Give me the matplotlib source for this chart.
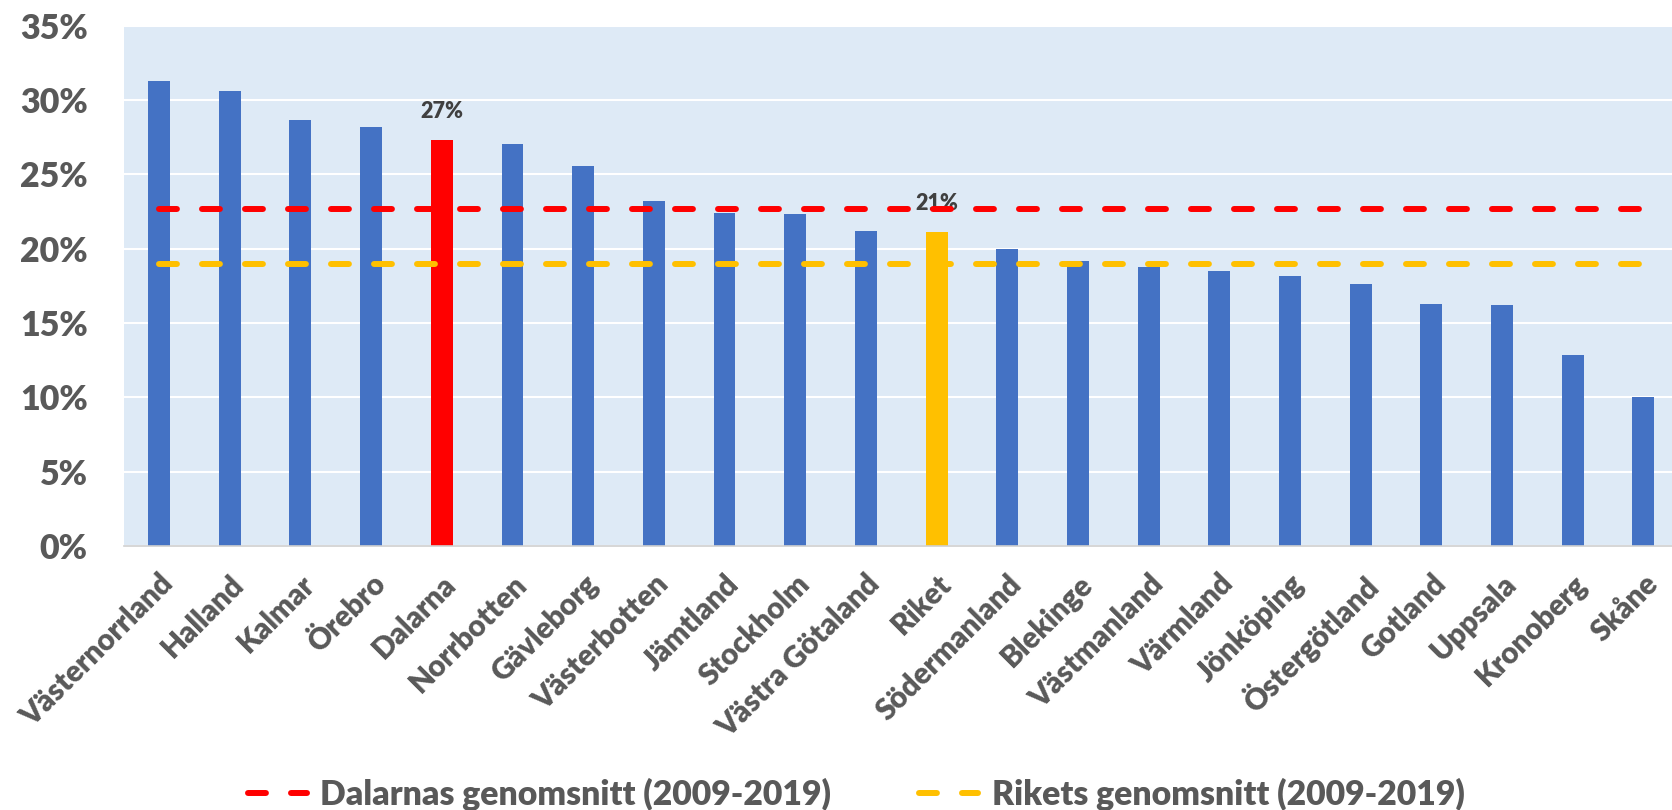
import numpy as np
import matplotlib.pyplot as plt
from matplotlib.lines import Line2D

plt.rcParams['font.family'] = ['Lato', 'DejaVu Sans']
plt.rcParams['font.weight'] = 'bold'

# Data (share in percent)
regions = ['Västernorrland', 'Halland', 'Kalmar', 'Örebro', 'Dalarna', 'Norrbotten',
           'Gävleborg', 'Västerbotten', 'Jämtland', 'Stockholm', 'Västra Götaland',
           'Riket', 'Södermanland', 'Blekinge', 'Västmanland', 'Värmland', 'Jönköping',
           'Östergötland', 'Gotland', 'Uppsala', 'Kronoberg', 'Skåne']
values = [31.3, 30.6, 28.7, 28.2, 27.3, 27.05, 25.6, 23.2, 22.4, 22.35, 21.2,
          21.1, 20.0, 19.2, 18.75, 18.5, 18.2, 17.6, 16.3, 16.2, 12.85, 10.0]
dalarna_avg = 22.7
riket_avg = 19.0
labelled = {'Dalarna': '27%', 'Riket': '21%'}

blue = '#4472C4'
red = '#FF0000'
yellow = '#FFC000'
text_grey = '#595959'

colors = [red if r == 'Dalarna' else yellow if r == 'Riket' else blue for r in regions]
x = np.arange(len(regions))

fig = plt.figure(figsize=(16.72, 8.10), dpi=100)
ax = fig.add_axes([0.074, 0.326, 0.93, 0.642])
ax.set_facecolor('#DEEAF6')

ax.bar(x, values, width=0.31, color=colors, zorder=2)

# value labels (drawn under the dashed lines)
for i, r in enumerate(regions):
    if r in labelled:
        ax.annotate(labelled[r], (x[i], values[i]), xytext=(0, 13), textcoords='offset points',
                    ha='center', va='bottom', fontsize=15.5, fontweight='heavy',
                    color='#404040', zorder=3)

dash = dict(lw=4.3, dashes=(3, 4.2), dash_capstyle='round')
ax.plot(x, [dalarna_avg] * len(x), color=red, zorder=4, **dash)
ax.plot(x, [riket_avg] * len(x), color=yellow, zorder=4, **dash)

ax.set_xlim(-0.5, len(x) - 0.5)
ax.set_ylim(0, 35)
ax.set_yticks(np.arange(0, 36, 5))
ax.set_yticklabels([f'{v}%' for v in range(0, 36, 5)], fontweight='heavy')
ax.yaxis.grid(True, color='white', lw=1.5, zorder=1)
ax.set_axisbelow(True)

ax.set_xticks(x)
ax.set_xticklabels(regions, rotation=45, ha='right', rotation_mode='anchor', fontweight='heavy')
ax.tick_params(axis='both', length=0, colors=text_grey)
ax.tick_params(axis='y', labelsize=24.5, pad=26)
ax.tick_params(axis='x', labelsize=21.3, pad=17)

for s in ['top', 'right', 'left']:
    ax.spines[s].set_visible(False)
ax.spines['bottom'].set_color('#D0D0D0')
ax.spines['bottom'].set_linewidth(1.2)

handles = [Line2D([], [], color=red, **dash), Line2D([], [], color=yellow, **dash)]
fig.legend(handles, ['Dalarnas genomsnitt (2009-2019)', 'Rikets genomsnitt (2009-2019)'],
           loc='center', bbox_to_anchor=(0.512, 0.019), ncol=2, frameon=False,
           prop=dict(size=24.3, weight='heavy'), labelcolor=text_grey,
           handlelength=1.75, handletextpad=0.4, columnspacing=2.6)

fig.savefig('out.png', dpi=100)
